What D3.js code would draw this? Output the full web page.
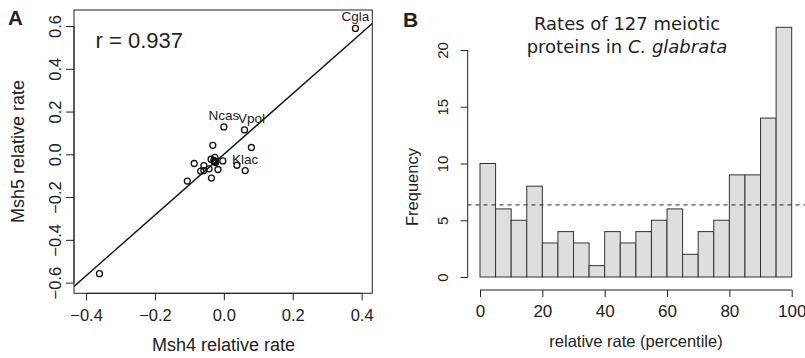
<!DOCTYPE html>
<html><head><meta charset="utf-8">
<script src="https://cdn.jsdelivr.net/npm/d3@7"></script>
<style>body{margin:0;background:#fff}svg{display:block}text{fill:#222}</style>
</head><body>
<svg id="c" width="805" height="358"></svg>
<script>
// ---- Panel A data: relative rates (Msh4 vs Msh5) ----
const speciesNames = ["Cgla","Ncas","Vpol","Klac","","","","","","","","","","","","","","","","","","",""];
const msh4Rate = [0.382, 0.000, 0.060, 0.062, -0.032, 0.080, -0.026, -0.037, -0.026, -0.029, -0.003, -0.086, -0.058, -0.017, -0.043, -0.067, -0.058, -0.036, -0.106, -0.361, 0.038, -0.024, -0.027];
const msh5Rate = [0.589, 0.128, 0.114, -0.076, 0.042, 0.032, -0.014, -0.023, -0.034, -0.029, -0.031, -0.043, -0.053, -0.071, -0.068, -0.079, -0.076, -0.111, -0.125, -0.558, -0.051, -0.038, -0.032];
const fitSlope = 1.42, fitIntercept = 0.0;
const corrLabel = "r = 0.937";
const xTicksA = [-0.4, -0.2, 0.0, 0.2, 0.4];
const yTicksA = [-0.6, -0.4, -0.2, 0.0, 0.2, 0.4, 0.6];

// ---- Panel B data: histogram of percentiles ----
const binStarts = [0,5,10,15,20,25,30,35,40,45,50,55,60,65,70,75,80,85,90,95];
const binCounts = [10,6,5,8,3,4,3,1,4,3,4,5,6,2,4,5,9,9,14,22];
const xTicksB = [0,20,40,60,80,100];
const yTicksB = [0,5,10,15,20];

const svg = d3.select("#c");
const FONT = "'Liberation Sans', Arial, sans-serif";

// ===== Panel A =====
const xA = d3.scaleLinear().domain([-0.435, 0.431]).range([74, 372.3]);
const yA = d3.scaleLinear().domain([-0.650, 0.675]).range([293.3, 10]);
const gA = svg.append("g");
gA.append("rect").attr("x", 74).attr("y", 10).attr("width", 298.3).attr("height", 283.3)
  .attr("fill", "none").attr("stroke", "#222").attr("stroke-width", 1);
const axBottomA = d3.axisBottom(xA).tickValues(xTicksA).tickFormat(d3.format(".1f")).tickSize(7).tickPadding(9);
gA.append("g").attr("transform", "translate(0,293.3)").call(axBottomA)
  .call(g => g.select(".domain").attr("d", `M${xA(-0.4)},0H${xA(0.4)}`))
  .call(g => g.selectAll("text").attr("font-size", 16.5).attr("font-family", FONT).attr("fill", "#222"))
  .call(g => g.selectAll("line,path").attr("stroke", "#222"));
const axLeftA = d3.axisLeft(yA).tickValues(yTicksA).tickFormat(d3.format(".1f")).tickSize(8);
gA.append("g").attr("transform", "translate(74,0)").call(axLeftA)
  .call(g => g.select(".domain").attr("d", `M0,${yA(-0.6)}V${yA(0.6)}`))
  .call(g => g.selectAll("line,path").attr("stroke", "#222"))
  .call(g => g.selectAll("text").attr("font-size", 16.5).attr("font-family", FONT).attr("fill", "#222")
     .attr("x", null).attr("dy", "0.35em").attr("text-anchor", "middle")
     .attr("transform", "translate(-19,0) rotate(-90)"));

// fit line clipped to plot box
gA.append("clipPath").attr("id", "clipA").append("rect").attr("x", 74).attr("y", 10).attr("width", 298.3).attr("height", 283.3);
const xd = xA.domain();
gA.append("line").attr("clip-path", "url(#clipA)")
  .attr("x1", xA(xd[0])).attr("y1", yA(fitIntercept + fitSlope * xd[0]))
  .attr("x2", xA(xd[1])).attr("y2", yA(fitIntercept + fitSlope * xd[1]))
  .attr("stroke", "#111").attr("stroke-width", 1.4);
const pts = msh4Rate.map((v, i) => ({x: v, y: msh5Rate[i], name: speciesNames[i]}));
gA.selectAll("circle.pt").data(pts).enter().append("circle")
  .attr("cx", d => xA(d.x)).attr("cy", d => yA(d.y)).attr("r", 3)
  .attr("fill", "none").attr("stroke", "#111").attr("stroke-width", 1.3);
const labelNudge = {Vpol: 7};
gA.selectAll("text.lab").data(pts.filter(d => d.name)).enter().append("text")
  .attr("x", d => xA(d.x) + (labelNudge[d.name] || 0)).attr("y", d => yA(d.y) - 7)
  .attr("text-anchor", "middle").attr("font-family", FONT).attr("font-size", 13.5).attr("fill", "#333")
  .text(d => d.name);
gA.append("text").attr("x", 95.5).attr("y", 48).attr("font-family", FONT).attr("font-size", 22).text(corrLabel);
gA.append("text").attr("x", 223.5).attr("y", 351).attr("text-anchor", "middle").attr("font-family", FONT).attr("font-size", 18).text("Msh4 relative rate");
gA.append("text").attr("transform", "translate(24,151.5) rotate(-90)").attr("text-anchor", "middle").attr("font-family", FONT).attr("font-size", 18).text("Msh5 relative rate");
svg.append("text").attr("x", 8).attr("y", 24.5).attr("font-family", FONT).attr("font-weight", "bold").attr("font-size", 20.5).text("A");

// ===== Panel B =====
const xB = d3.scaleLinear().domain([0, 100]).range([480, 791.7]);
const yB = d3.scaleLinear().domain([0, 20]).range([277, 50]);
const gB = svg.append("g");
gB.selectAll("rect.bar").data(binCounts).enter().append("rect")
  .attr("x", (d, i) => xB(binStarts[i])).attr("y", d => yB(d))
  .attr("width", (d, i) => xB(binStarts[i] + 5) - xB(binStarts[i])).attr("height", d => yB(0) - yB(d))
  .attr("fill", "#dedede").attr("stroke", "#333").attr("stroke-width", 1);
const total = d3.sum(binCounts);
gB.append("line").attr("x1", 467.5).attr("x2", 805)
  .attr("y1", yB(total / binCounts.length)).attr("y2", yB(total / binCounts.length))
  .attr("stroke", "#222").attr("stroke-width", 1).attr("stroke-dasharray", "4,4");
const axBottomB = d3.axisBottom(xB).tickValues(xTicksB).tickFormat(d3.format("d")).tickSize(7).tickPadding(8);
gB.append("g").attr("transform", "translate(0,290)").call(axBottomB)
  .call(g => g.select(".domain").attr("d", `M${xB(0)},0H${xB(100)}`))
  .call(g => g.selectAll("line,path").attr("stroke", "#222"))
  .call(g => g.selectAll("text").attr("font-size", 17).attr("font-family", FONT).attr("fill", "#222"));
const axLeftB = d3.axisLeft(yB).tickValues(yTicksB).tickFormat(d3.format("d")).tickSize(7);
gB.append("g").attr("transform", "translate(467.7,0)").call(axLeftB)
  .call(g => g.select(".domain").attr("d", `M0,${yB(0)}V${yB(20)}`))
  .call(g => g.selectAll("line,path").attr("stroke", "#222"))
  .call(g => g.selectAll("text").attr("font-size", 15).attr("font-family", FONT).attr("fill", "#222")
     .attr("x", null).attr("dy", "0.35em").attr("text-anchor", "middle")
     .attr("transform", "translate(-24.5,0) rotate(-90)"));
gB.append("text").attr("x", 636).attr("y", 347).attr("text-anchor", "middle").attr("font-family", FONT).attr("font-size", 16.5).text("relative rate (percentile)");
gB.append("text").attr("transform", "translate(418,187) rotate(-90)").attr("text-anchor", "middle").attr("font-family", FONT).attr("font-size", 16.5).text("Frequency");
const TF = "'DejaVu Sans', sans-serif";
gB.append("text").attr("x", 627).attr("y", 30).attr("text-anchor", "middle").attr("font-family", TF).attr("font-size", 18).text("Rates of 127 meiotic");
const t2 = gB.append("text").attr("x", 627).attr("y", 52.5).attr("text-anchor", "middle").attr("font-family", TF).attr("font-size", 18);
t2.append("tspan").text("proteins in ");
t2.append("tspan").attr("font-style", "italic").text("C. glabrata");
svg.append("text").attr("x", 403).attr("y", 26.5).attr("font-family", FONT).attr("font-weight", "bold").attr("font-size", 21).text("B");
</script>
</body></html>
